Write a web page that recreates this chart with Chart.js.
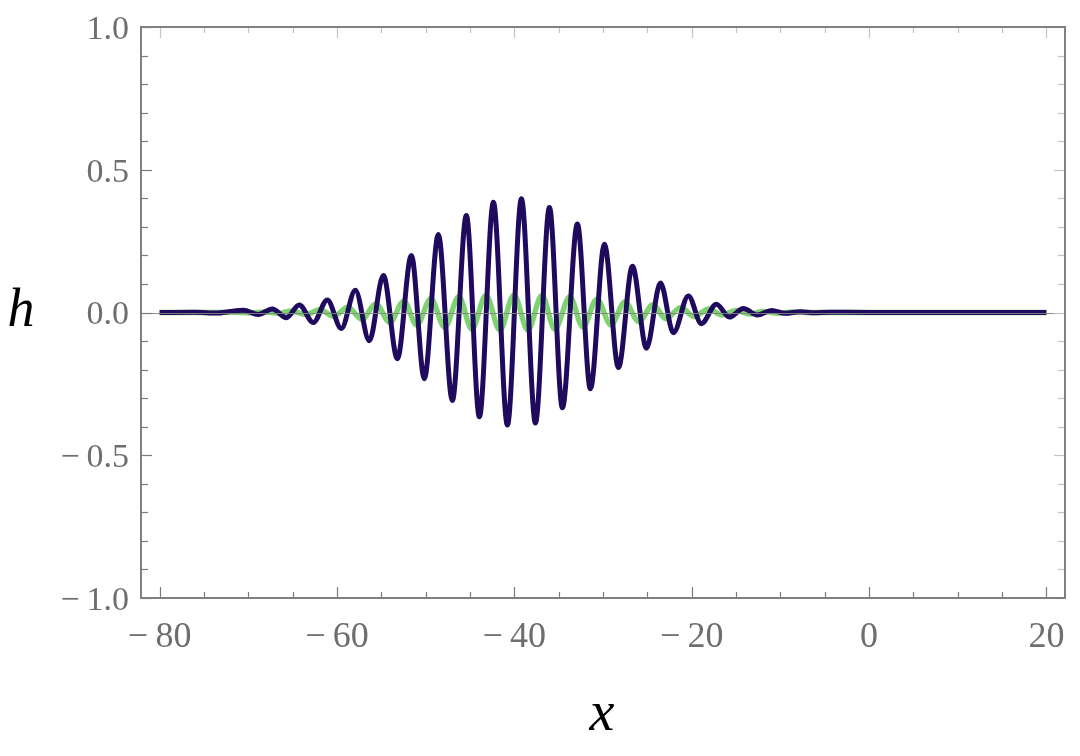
<!DOCTYPE html>
<html>
<head>
<meta charset="utf-8">
<script src="https://cdn.jsdelivr.net/npm/chart.js@4.4.1/dist/chart.umd.min.js"></script>
<style>
  html, body { margin: 0; padding: 0; background: #ffffff; }
  #wrap { width: 1080px; height: 756px; }
</style>
</head>
<body>
<div id="wrap"><canvas id="c" width="1080" height="756"></canvas></div>
<script>
// ---- data ----
const xNavy = [-80, -76, -73.5, -72.2, -70.56, -68.87, -67.29, -65.71, -64.25, -62.67, -61.09, -59.51, -57.93, -56.35, -54.77, -53.19, -51.61, -50.15, -48.57, -46.99, -45.41, -43.94, -42.36, -40.78, -39.20, -37.62, -36.04, -34.58, -32.89, -31.42, -29.84, -28.26, -26.68, -25.10, -23.52, -22.06, -20.37, -18.91, -17.21, -15.75, -14.17, -12.59, -11.01, -9.43, -7.74, -6.2, -4.5, 0, 20];
const hNavy = [0, 0.001, -0.002, 0.003, 0.008, -0.007, 0.012, -0.018, 0.026, -0.035, 0.044, -0.056, 0.078, -0.099, 0.130, -0.162, 0.200, -0.232, 0.273, -0.308, 0.340, -0.365, 0.386, -0.394, 0.398, -0.387, 0.368, -0.334, 0.310, -0.267, 0.239, -0.193, 0.162, -0.125, 0.103, -0.071, 0.058, -0.039, 0.029, -0.016, 0.014, -0.009, 0.007, -0.003, 0.003, -0.001, 0.001, 0, 0];
const xGreen = [-80, -74, -71.41, -69.72, -68.14, -66.56, -65.10, -63.52, -61.94, -60.36, -58.78, -57.20, -55.62, -54.04, -52.46, -51.00, -49.42, -47.84, -46.26, -44.79, -43.21, -41.63, -40.05, -38.47, -36.89, -35.43, -33.74, -32.27, -30.69, -29.11, -27.53, -25.95, -24.37, -22.91, -21.22, -19.76, -18.06, -16.60, -15.02, -13.44, -11.86, -10.28, -8.59, -6.5, 0, 20];
const hGreen = [0, 0, 0.001, -0.001, 0.002, -0.003, 0.005, -0.007, 0.010, -0.013, 0.019, -0.024, 0.030, -0.035, 0.040, -0.044, 0.048, -0.052, 0.055, -0.058, 0.060, -0.061, 0.061, -0.061, 0.060, -0.058, 0.055, -0.051, 0.047, -0.043, 0.037, -0.032, 0.027, -0.022, 0.018, -0.014, 0.012, -0.009, 0.007, -0.005, 0.004, -0.003, 0.002, 0, 0, 0];
const xTickValues = [-80, -60, -40, -20, 0, 20];
const yTickValues = [-1.0, -0.5, 0.0, 0.5, 1.0];
const xMinorStep = 5;
const yMinorStep = 0.1;
const xLabel = 'x';
const yLabel = 'h';

const NAVY = 'rgb(31,10,94)';
const GREEN = 'rgb(126,211,112)';
const GRAY_TEXT = '#6e6e6e';
const FRAME = '#808080';
const SERIF = '"Liberation Serif", "Times New Roman", serif';

function fmt(v) {
  const s = Math.abs(v);
  return (v < -1e-9 ? '\u2212\u2009' : '') + s;
}
function fmtY(v) {
  const s = Math.abs(v).toFixed(1);
  return (v < -1e-9 ? '\u2212\u2009' : '') + s;
}

const framePlugin = {
  id: 'framePlugin',
  afterDatasetsDraw(chart) {
    const {ctx, chartArea: a, scales} = chart;
    const xs = scales.x, ys = scales.y;
    ctx.save();
    // zero axis line
    const y0 = ys.getPixelForValue(0);
    ctx.strokeStyle = 'rgba(130,130,130,0.9)';
    ctx.lineWidth = 1;
    ctx.beginPath();
    ctx.moveTo(a.left, Math.round(y0) + 0.5);
    ctx.lineTo(a.right, Math.round(y0) + 0.5);
    ctx.stroke();
    // ticks (inward, Mathematica-style frame ticks)
    ctx.lineWidth = 1.2;
    const xMin = xTickValues[0], xMax = xTickValues[xTickValues.length - 1];
    for (let i = 0; xMin + i * xMinorStep <= xMax + 1e-9; i++) {
      const v = xMin + i * xMinorStep;
      const major = xTickValues.some(t => Math.abs(t - v) < 1e-9);
      const len = major ? 11 : 6;
      const px = Math.round(xs.getPixelForValue(v)) + 0.5;
      ctx.strokeStyle = '#7a7a7a';
      ctx.beginPath(); ctx.moveTo(px, a.bottom); ctx.lineTo(px, a.bottom - len); ctx.stroke();
      ctx.strokeStyle = '#c4c4c4';
      ctx.beginPath(); ctx.moveTo(px, a.top); ctx.lineTo(px, a.top + len); ctx.stroke();
    }
    const yMin = yTickValues[0], yMax = yTickValues[yTickValues.length - 1];
    const n = Math.round((yMax - yMin) / yMinorStep);
    for (let i = 0; i <= n; i++) {
      const v = yMin + i * yMinorStep;
      const major = yTickValues.some(t => Math.abs(t - v) < 1e-6);
      const len = major ? 11 : 7;
      const py = Math.round(ys.getPixelForValue(v)) + 0.5;
      ctx.strokeStyle = '#7a7a7a';
      ctx.beginPath(); ctx.moveTo(a.left, py); ctx.lineTo(a.left + len, py); ctx.stroke();
      ctx.strokeStyle = '#c4c4c4';
      ctx.beginPath(); ctx.moveTo(a.right, py); ctx.lineTo(a.right - len, py); ctx.stroke();
    }
    // frame
    ctx.strokeStyle = FRAME;
    ctx.lineWidth = 2;
    ctx.strokeRect(a.left, a.top, a.right - a.left, a.bottom - a.top);
    // axis titles
    ctx.fillStyle = '#000';
    ctx.font = 'italic 56px ' + SERIF;
    ctx.textAlign = 'center';
    ctx.textBaseline = 'alphabetic';
    ctx.fillText(xLabel, 602, 730);
    ctx.font = 'italic 54px ' + SERIF;
    ctx.fillText(yLabel, 21, 326);
    ctx.restore();
  }
};

new Chart(document.getElementById('c'), {
  type: 'line',
  data: {
    datasets: [
      {
        label: 'navy',
        data: xNavy.map((x, i) => ({x, y: hNavy[i]})),
        borderColor: NAVY,
        borderWidth: 5,
        pointRadius: 0,
        cubicInterpolationMode: 'monotone',
        fill: false
      },
      {
        label: 'green',
        data: xGreen.map((x, i) => ({x, y: hGreen[i]})),
        borderColor: GREEN,
        borderWidth: 5.4,
        pointRadius: 0,
        cubicInterpolationMode: 'monotone',
        fill: false
      }
    ]
  },
  options: {
    responsive: false,
    animation: false,
    devicePixelRatio: 1,
    layout: { padding: { left: 0, top: 27, right: 15, bottom: 0 } },
    plugins: { legend: { display: false }, tooltip: { enabled: false } },
    scales: {
      x: {
        type: 'linear',
        min: -82.1,
        max: 22.1,
        afterBuildTicks: s => { s.ticks = xTickValues.map(v => ({value: v})); },
        afterFit: s => { s.height = 158; s.paddingLeft = 0; s.paddingRight = 0; },
        grid: { display: false, drawTicks: false },
        border: { display: false },
        ticks: {
          callback: v => fmt(v),
          color: GRAY_TEXT,
          font: { family: SERIF, size: 36 },
          padding: 18,
          maxRotation: 0,
          autoSkip: false
        }
      },
      y: {
        type: 'linear',
        min: -1,
        max: 1,
        afterBuildTicks: s => { s.ticks = yTickValues.map(v => ({value: v})); },
        afterFit: s => { s.width = 141; s.paddingTop = 0; s.paddingBottom = 0; },
        grid: { display: false, drawTicks: false },
        border: { display: false },
        ticks: {
          callback: v => fmtY(v),
          color: GRAY_TEXT,
          font: { family: SERIF, size: 34 },
          padding: 12,
          labelOffset: 3,
          autoSkip: false
        }
      }
    }
  },
  plugins: [framePlugin]
});
</script>
</body>
</html>
